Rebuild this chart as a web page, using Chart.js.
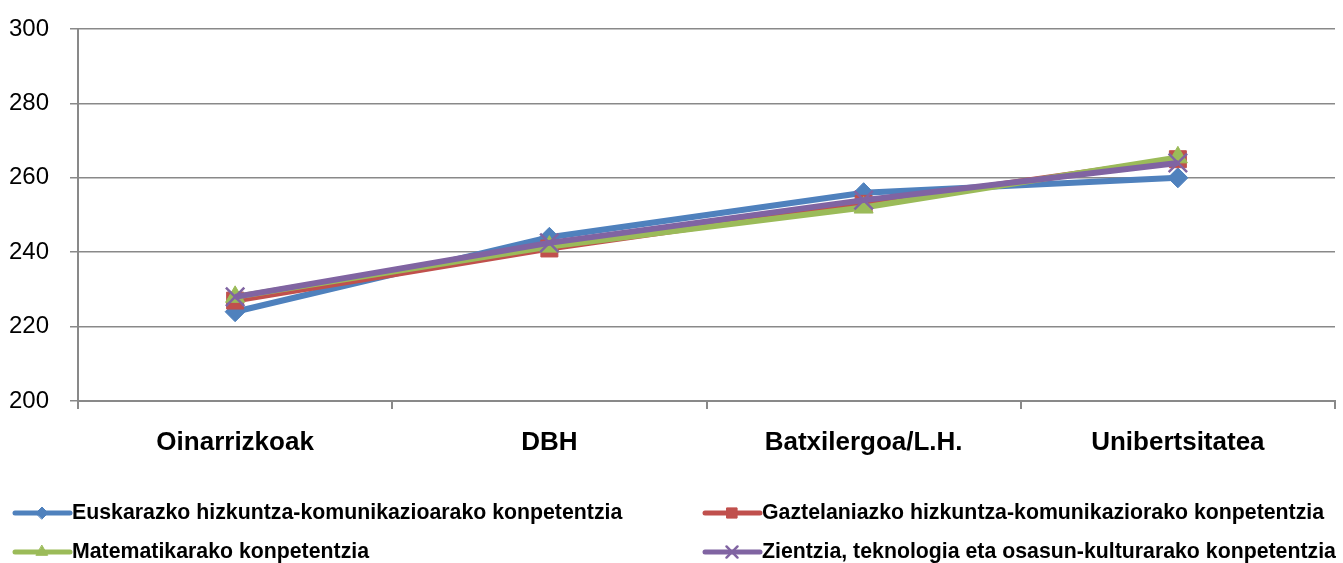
<!DOCTYPE html>
<html>
<head>
<meta charset="utf-8">
<script src="https://cdn.jsdelivr.net/npm/chart.js@4/dist/chart.umd.min.js"></script>
<style>
  html, body { margin: 0; padding: 0; background: #fff; overflow: hidden; }
  #wrap { width: 1343px; height: 563px; position: relative; }
  canvas { display: block; }
</style>
</head>
<body>
<div id="wrap"><canvas id="chart"></canvas></div>
<script>
const categories = ["Oinarrizkoak", "DBH", "Batxilergoa/L.H.", "Unibertsitatea"];

const euskara = [224, 244, 256, 260];
const gaztelania = [227, 241, 253, 265];
const matematika = [228, 241.5, 252, 265.5];
const zientzia = [228, 242.5, 254, 264];

const yTicks = [200, 220, 240, 260, 280, 300];

const seriesNames = [
    "Euskarazko hizkuntza-komunikazioarako konpetentzia",
    "Gaztelaniazko hizkuntza-komunikaziorako konpetentzia",
    "Matematikarako konpetentzia",
    "Zientzia, teknologia eta osasun-kulturarako konpetentzia"
];

const FONT = "'Liberation Sans', Arial, sans-serif";
const GRID = "#898989";

function series(label, data, color, pointStyle, radius, order) {
    return {
        label: label,
        data: data,
        borderColor: color,
        backgroundColor: color,
        pointBackgroundColor: color,
        pointBorderColor: color,
        borderWidth: 6,
        pointStyle: pointStyle,
        pointRadius: radius,
        pointBorderWidth: pointStyle === "crossRot" ? 2.5 : 1,
        tension: 0,
        fill: false,
        order: order
    };
}

/* legend in two fixed columns, like the original */
const sideLegend = {
    id: "sideLegend",
    afterDraw(chart) {
        const ctx = chart.ctx;
        const spots = [[15, 513], [705, 513], [15, 552], [705, 552]];
        chart.data.datasets.forEach((ds, i) => {
            const [x, y] = spots[i];
            ctx.save();
            ctx.strokeStyle = ds.borderColor;
            ctx.lineWidth = 5;
            ctx.lineCap = "round";
            ctx.beginPath();
            ctx.moveTo(x, y);
            ctx.lineTo(x + 55, y);
            ctx.stroke();
            ctx.fillStyle = ds.borderColor;
            ctx.strokeStyle = ds.borderColor;
            ctx.lineWidth = ds.pointBorderWidth;
            Chart.helpers.drawPoint(ctx, {
                pointStyle: ds.pointStyle,
                radius: ds.pointRadius * 0.6,
                rotation: 0,
                borderWidth: ds.pointBorderWidth
            }, x + 27, y);
            ctx.fillStyle = "#000";
            ctx.font = "bold 21.3px " + FONT;
            ctx.textBaseline = "middle";
            ctx.fillText(ds.label, x + 57, y);
            ctx.restore();
        });
    }
};

new Chart(document.getElementById("chart"), {
    type: "line",
    data: {
        labels: categories,
        datasets: [
            series(seriesNames[0], euskara, "#4F81BD", "rectRot", 10, 4),
            series(seriesNames[1], gaztelania, "#C0504D", "rect", 12, 3),
            series(seriesNames[2], matematika, "#9BBB59", "triangle", 11, 2),
            series(seriesNames[3], zientzia, "#8064A2", "crossRot", 13, 1)
        ]
    },
    options: {
        responsive: true,
        maintainAspectRatio: false,
        animation: false,
        layout: {
            autoPadding: false,
            padding: { top: 29, right: 8, bottom: 102, left: 0 }
        },
        plugins: {
            legend: { display: false },
            tooltip: { enabled: false }
        },
        scales: {
            x: {
                offset: true,
                grid: {
                    offset: true,
                    drawOnChartArea: false,
                    drawTicks: true,
                    tickLength: 8,
                    color: GRID,
                    lineWidth: 2
                },
                border: { color: GRID, width: 2 },
                ticks: {
                    color: "#000",
                    font: { family: FONT, size: 26, weight: "bold" },
                    padding: 18
                },
                afterFit(scale) {
                    scale.height = 60;
                    scale.paddingLeft = 0;
                    scale.paddingRight = 0;
                }
            },
            y: {
                min: 200,
                max: 300,
                afterBuildTicks(scale) {
                    scale.ticks = yTicks.map(v => ({ value: v }));
                },
                grid: {
                    color: GRID,
                    lineWidth: 1.5,
                    tickLength: 8,
                    drawTicks: true
                },
                border: { color: GRID, width: 2 },
                ticks: {
                    color: "#000",
                    font: { family: FONT, size: 24 },
                    padding: 21
                },
                afterFit(scale) {
                    scale.width = 78;
                    scale.paddingTop = 0;
                    scale.paddingBottom = 0;
                }
            }
        }
    },
    plugins: [sideLegend]
});
</script>
</body>
</html>
